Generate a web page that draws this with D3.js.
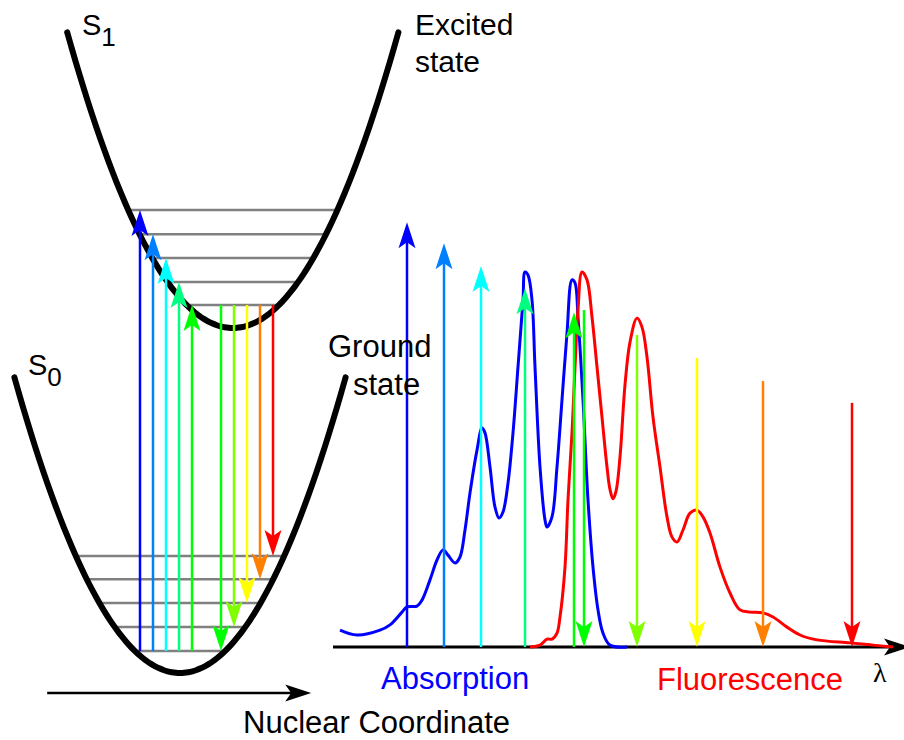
<!DOCTYPE html>
<html>
<head>
<meta charset="utf-8">
<script src="https://cdn.jsdelivr.net/npm/d3@7"></script>
<style>
  html, body { margin: 0; padding: 0; background: #fff; }
  svg { display: block; }
  text { font-family: "Liberation Sans", Arial, Helvetica, sans-serif; }
</style>
</head>
<body>
<svg id="chart" width="904" height="740"></svg>
<script>
// ---------------- Data: potential energy diagram ----------------
const wellNames      = ["S0", "S1"];
const wellCenters    = [4.5, 5.82];      // nuclear coordinate of minimum
const wellMinima     = [0, 1];           // energy of minimum
const wellCurvature  = [0.05, 0.05];     // E = Emin + k (q - q0)^2
const wellHalfSpan   = [4.14, 4.14];     // drawn half-width in q
const s0Levels = [0.064, 0.133, 0.203, 0.272, 0.339];
const s1Levels = [1.067, 1.133, 1.203, 1.272, 1.342];

// absorption: from S0 v=0 to S1 v = 4..0 ; emission: S1 v=0 to S0 v = 0..4
const absQ      = [3.5, 3.825, 4.15, 4.475, 4.8];
const absTarget = [4, 3, 2, 1, 0];
const absColors = ["#0000ff", "#0080ff", "#00ffff", "#00ff80", "#00ff00"];
const emQ       = [5.525, 5.85, 6.175, 6.5, 6.825];
const emTarget  = [0, 1, 2, 3, 4];
const emColors  = ["#00ff00", "#80ff00", "#ffff00", "#ff8000", "#ff0000"];

// ---------------- Data: spectra ----------------
const absLambda = [353.5, 362, 373.5, 378.5, 384.5, 387, 392, 394.5, 398.5, 402, 405, 407.5,
  411, 413.5, 416, 418.5, 422, 424.5, 426, 428.5, 431, 433, 435, 437.5, 440, 442.5, 445,
  446, 447.5, 449.5, 451, 453.5, 456, 457, 459.5, 462, 464.5, 467, 469.5, 471, 472.5, 475,
  477.5, 480, 482.5, 485, 488.5, 497];
const absIntensity = [0.045, 0.032, 0.045, 0.059, 0.093, 0.107, 0.109, 0.125, 0.179, 0.232, 0.259, 0.245,
  0.224, 0.240, 0.312, 0.411, 0.525, 0.584, 0.571, 0.480, 0.373, 0.344, 0.360, 0.437, 0.571, 0.747, 0.925,
  1.000, 0.992, 0.925, 0.747, 0.480, 0.339, 0.320, 0.347, 0.480, 0.659, 0.837, 0.979, 0.971, 0.880, 0.659,
  0.392, 0.213, 0.099, 0.037, 0.005, 0];

const fluoLambda = [448.5, 453.5, 457, 459.5, 462, 463.5, 466, 467.5, 469.5, 471, 472.5, 474.5,
  477, 479.5, 482, 484.5, 487, 488.5, 490, 491.5, 493.5, 496, 498.5, 502, 504.5, 507, 510, 513.5,
  517, 519.5, 522, 525, 528.5, 532, 535, 538.5, 543.5, 548.5, 553.5, 558.5, 565, 570, 577,
  583.5, 592, 608.5, 620, 630];
const fluoIntensity = [0, 0.005, 0.021, 0.021, 0.037, 0.080, 0.213, 0.392, 0.571, 0.747, 0.899, 1.000,
  0.979, 0.880, 0.747, 0.613, 0.480, 0.420, 0.395, 0.415, 0.507, 0.699, 0.813, 0.877, 0.853, 0.773, 0.613, 0.480,
  0.347, 0.293, 0.280, 0.312, 0.357, 0.365, 0.347, 0.304, 0.213, 0.144, 0.099, 0.093, 0.091, 0.080, 0.053,
  0.032, 0.019, 0.011, 0.005, 0];

// spectrum transition arrows
const absArrowLambda = [387, 405.5, 424, 446, 470.5];
const absArrowTop    = [1.133, 1.077, 1.016, 0.957, 0.893];
const emArrowLambda  = [475.5, 502, 532, 565, 609.5];
const emArrowTop     = [0.899, 0.832, 0.771, 0.709, 0.651];

// ---------------- Scales ----------------
const svg = d3.select("#chart");

const xq = d3.scaleLinear().domain([0, 10]).range([0, 400]);
const yE = d3.scaleLinear().domain([0, 1]).range([673, 328]);

const xs = d3.scaleLinear().domain([350, 635]).range([333, 903]);
const yI = d3.scaleLinear().domain([0, 1]).range([647, 272]);

// arrowhead (stealth) path; dir = -1 (up), +1 (down), or "right"
function headPath(x, y, dir, len = 26, half = 8.5, notch = 20) {
  const p = d3.path();
  if (dir === "right") {
    p.moveTo(x, y); p.lineTo(x - len, y - half); p.lineTo(x - notch, y);
    p.lineTo(x - len, y + half); p.closePath();
  } else {
    const s = -dir;
    p.moveTo(x, y); p.lineTo(x - half, y + s * len); p.lineTo(x, y + s * notch);
    p.lineTo(x + half, y + s * len); p.closePath();
  }
  return p.toString();
}

function drawArrow(g, x1, y1, x2, y2, color, width = 2.5) {
  if (y1 === y2) {
    g.append("line").attr("x1", x1).attr("y1", y1).attr("x2", x2 - 18).attr("y2", y2)
      .attr("stroke", color).attr("stroke-width", width);
    g.append("path").attr("d", headPath(x2, y2, "right")).attr("fill", color);
  } else {
    const dir = y2 < y1 ? -1 : 1;
    g.append("line").attr("x1", x1).attr("y1", y1).attr("x2", x2)
      .attr("y2", y2 - dir * 18).attr("stroke", color).attr("stroke-width", width);
    g.append("path").attr("d", headPath(x2, y2, dir)).attr("fill", color);
  }
}

// ---------------- Potential wells ----------------
const left = svg.append("g");
const wellE = (i, q) => wellMinima[i] + wellCurvature[i] * (q - wellCenters[i]) ** 2;
const wellQ = (i, E, side) => wellCenters[i] + side * Math.sqrt((E - wellMinima[i]) / wellCurvature[i]);

const levels = [s0Levels, s1Levels];
levels.forEach((lv, i) => {
  left.selectAll(null).data(lv).enter().append("line")
    .attr("x1", E => xq(wellQ(i, E, -1)))
    .attr("x2", E => xq(wellQ(i, E, 1)))
    .attr("y1", E => yE(E)).attr("y2", E => yE(E))
    .attr("stroke", "#808080").attr("stroke-width", 2.5);
});

const wellLine = d3.line().x(d => xq(d[0])).y(d => yE(d[1])).curve(d3.curveBasis);
wellNames.forEach((n, i) => {
  const pts = d3.range(0, 81).map(j => {
    const q = wellCenters[i] - wellHalfSpan[i] + j * (2 * wellHalfSpan[i] / 80);
    return [q, wellE(i, q)];
  });
  left.append("path").attr("d", wellLine(pts)).attr("fill", "none")
    .attr("stroke", "#000").attr("stroke-width", 6).attr("stroke-linecap", "round");
});

absQ.forEach((q, i) => {
  drawArrow(left, xq(q), yE(s0Levels[0]), xq(q), yE(s1Levels[absTarget[i]]), absColors[i]);
});
emQ.forEach((q, i) => {
  drawArrow(left, xq(q), yE(s1Levels[0]), xq(q), yE(s0Levels[emTarget[i]]), emColors[i]);
});

// Nuclear coordinate axis
drawArrow(left, xq(1.18), 693, xq(7.78), 693, "#000", 2.5);

// ---------------- Spectrum ----------------
const right = svg.append("g");
drawArrow(right, xs(350), yI(0), 910, yI(0), "#000", 2.8);

const specLine = d3.line().x(d => xs(d[0])).y(d => yI(d[1])).curve(d3.curveCatmullRom.alpha(0.5));
right.append("path").attr("d", specLine(d3.zip(absLambda, absIntensity)))
  .attr("fill", "none").attr("stroke", "#0000ff").attr("stroke-width", 3);
right.append("path").attr("d", specLine(d3.zip(fluoLambda, fluoIntensity)))
  .attr("fill", "none").attr("stroke", "#ff0000").attr("stroke-width", 3);

absArrowLambda.forEach((l, i) => {
  drawArrow(right, xs(l), yI(0), xs(l), yI(absArrowTop[i]), absColors[i]);
});
emArrowLambda.forEach((l, i) => {
  drawArrow(right, xs(l), yI(emArrowTop[i]), xs(l), yI(0), emColors[i]);
});

// ---------------- Labels ----------------
const lab = svg.append("g");
function sub(x, y, main, s) {
  const t = lab.append("text").attr("x", x).attr("y", y).attr("font-size", 29).attr("fill", "#000");
  t.append("tspan").text(main);
  t.append("tspan").attr("dy", 11).attr("font-size", 26).text(s);
}
sub(82, 35, "S", "1");
sub(28, 375, "S", "0");

lab.append("text").attr("x", 415).attr("y", 35).attr("font-size", 30).text("Excited");
lab.append("text").attr("x", 415).attr("y", 72).attr("font-size", 30).text("state");
lab.append("text").attr("x", 328).attr("y", 357).attr("font-size", 31).text("Ground");
lab.append("text").attr("x", 353).attr("y", 395).attr("font-size", 31).text("state");

lab.append("text").attr("x", 381).attr("y", 689).attr("font-size", 31).attr("fill", "#0000ff").text("Absorption");
lab.append("text").attr("x", 657).attr("y", 690).attr("font-size", 31).attr("fill", "#ff0000").text("Fluorescence");
lab.append("text").attr("x", 243).attr("y", 733).attr("font-size", 31).attr("fill", "#000").text("Nuclear Coordinate");
lab.append("text").attr("x", 873).attr("y", 682).attr("font-size", 28)
  .style("font-family", "'Liberation Serif', 'DejaVu Serif', serif").text("λ");
</script>
</body>
</html>
